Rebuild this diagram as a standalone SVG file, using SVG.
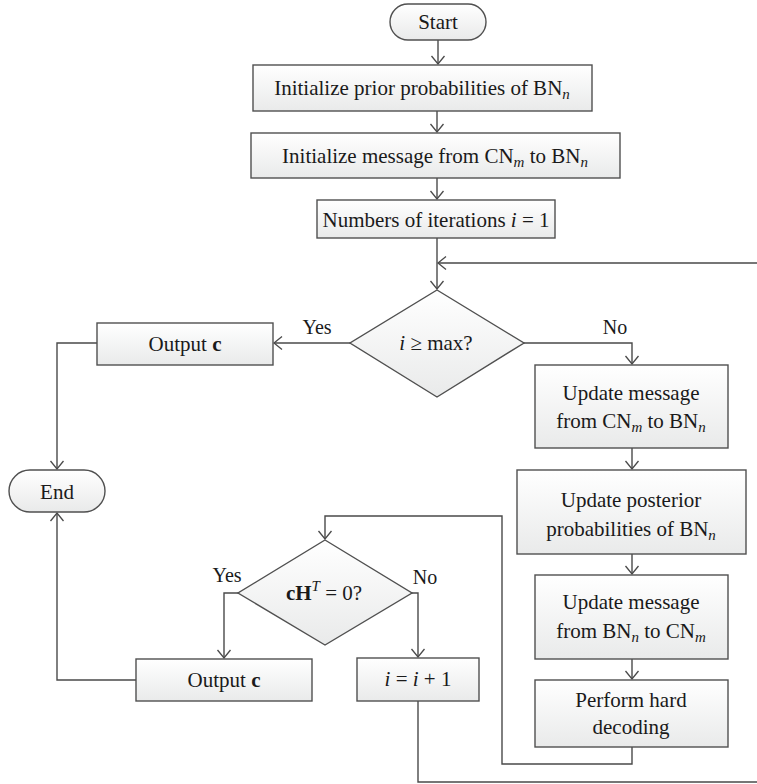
<svg xmlns="http://www.w3.org/2000/svg" width="757" height="784" viewBox="0 0 757 784">
<defs>
<linearGradient id="g" x1="0" y1="0" x2="0" y2="1">
<stop offset="0" stop-color="#ffffff"/>
<stop offset="1" stop-color="#e9eaea"/>
</linearGradient>
<marker id="ar" markerUnits="userSpaceOnUse" viewBox="-10 -10 20 20" markerWidth="20" markerHeight="20" refX="0" refY="0" orient="auto">
<path d="M-8,-6.5 L0,0 L-8,6.5" fill="none" stroke="#4a4a4a" stroke-width="1.3"/>
</marker>
<style>
.n{fill:url(#g);stroke:#505050;stroke-width:1.4}
.c{fill:none;stroke:#4a4a4a;stroke-width:1.4}
text{font-family:"Liberation Serif","Times New Roman",serif;font-size:21px;fill:#1a1a1a;text-anchor:middle}
.l{font-size:20px}
.it{font-style:italic}
.b{font-weight:bold}
</style>
</defs>
<g id="connectors">
<path class="c" d="M438,40 V64" marker-end="url(#ar)"/>
<path class="c" d="M437,111 V132" marker-end="url(#ar)"/>
<path class="c" d="M437,178 V199" marker-end="url(#ar)"/>
<path class="c" d="M437,238 V289" marker-end="url(#ar)"/>
<path class="c" d="M418,701 V782 H759 V263 H438" marker-end="url(#ar)"/>
<path class="c" d="M350,343 H274" marker-end="url(#ar)"/>
<path class="c" d="M97,343 H57 V469" marker-end="url(#ar)"/>
<path class="c" d="M524,343 H632 V364" marker-end="url(#ar)"/>
<path class="c" d="M632,448 V469" marker-end="url(#ar)"/>
<path class="c" d="M632,554 V574" marker-end="url(#ar)"/>
<path class="c" d="M632,659 V679" marker-end="url(#ar)"/>
<path class="c" d="M632,747 V764 H502 V516 H325 V539" marker-end="url(#ar)"/>
<path class="c" d="M238,593 H224 V658" marker-end="url(#ar)"/>
<path class="c" d="M412,593 H418 V657" marker-end="url(#ar)"/>
<path class="c" d="M136,680 H57 V513" marker-end="url(#ar)"/>
</g>
<g id="start">
<rect class="n" x="390" y="4" width="96" height="36" rx="18"/>
<text x="438" y="29">Start</text>
</g>
<g id="init-prior">
<rect class="n" x="253" y="65" width="339" height="46"/>
<text x="422" y="95">Initialize prior probabilities of BN<tspan class="it" font-size="15" dy="4">n</tspan></text>
</g>
<g id="init-msg">
<rect class="n" x="251" y="133" width="369" height="45"/>
<text x="435" y="163">Initialize message from CN<tspan class="it" font-size="15" dy="4">m</tspan><tspan dy="-4"> to BN</tspan><tspan class="it" font-size="15" dy="4">n</tspan></text>
</g>
<g id="iter">
<rect class="n" x="317" y="200" width="238" height="38"/>
<text x="436" y="227">Numbers of iterations <tspan class="it">i</tspan> = 1</text>
</g>
<g id="check-max">
<polygon class="n" points="437,290 524,343 437,397 350,343"/>
<text x="436" y="350"><tspan class="it">i</tspan> ≥ max?</text>
</g>
<text class="l" x="317" y="334">Yes</text>
<text class="l" x="615" y="334">No</text>
<g id="output-c-1">
<rect class="n" x="97" y="323" width="176" height="42"/>
<text x="185" y="351">Output <tspan class="b">c</tspan></text>
</g>
<g id="end">
<rect class="n" x="9" y="470" width="96" height="42" rx="21"/>
<text x="57" y="499">End</text>
</g>
<g id="update-cn-bn">
<rect class="n" x="535" y="365" width="193" height="83"/>
<text x="631" y="400">Update message</text>
<text x="631" y="428">from CN<tspan class="it" font-size="15" dy="4">m</tspan><tspan dy="-4"> to BN</tspan><tspan class="it" font-size="15" dy="4">n</tspan></text>
</g>
<g id="update-posterior">
<rect class="n" x="517" y="470" width="229" height="84"/>
<text x="631" y="507">Update posterior</text>
<text x="631" y="536">probabilities of BN<tspan class="it" font-size="15" dy="4">n</tspan></text>
</g>
<g id="update-bn-cn">
<rect class="n" x="535" y="575" width="193" height="84"/>
<text x="631" y="609">Update message</text>
<text x="631" y="638">from BN<tspan class="it" font-size="15" dy="4">n</tspan><tspan dy="-4"> to CN</tspan><tspan class="it" font-size="15" dy="4">m</tspan></text>
</g>
<g id="hard-decoding">
<rect class="n" x="535" y="680" width="193" height="67"/>
<text x="631" y="707">Perform hard</text>
<text x="631" y="734">decoding</text>
</g>
<g id="check-syndrome">
<polygon class="n" points="325,540 412,593 325,645 238,593"/>
<text x="324" y="600"><tspan class="b">cH</tspan><tspan class="it" font-size="15" dy="-9">T</tspan><tspan dy="9"> = 0?</tspan></text>
</g>
<text class="l" x="227" y="582">Yes</text>
<text class="l" x="425" y="584">No</text>
<g id="output-c-2">
<rect class="n" x="136" y="659" width="176" height="42"/>
<text x="224" y="687">Output <tspan class="b">c</tspan></text>
</g>
<g id="increment">
<rect class="n" x="357" y="658" width="122" height="43"/>
<text x="418" y="686"><tspan class="it">i</tspan> = <tspan class="it">i</tspan> + 1</text>
</g>
</svg>
